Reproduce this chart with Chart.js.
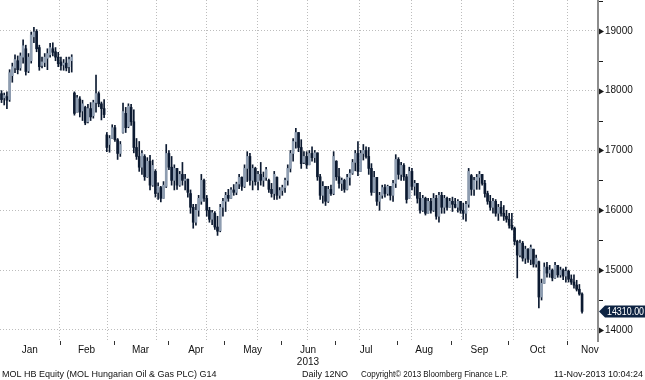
<!DOCTYPE html>
<html>
<head>
<meta charset="utf-8">
<script src="https://cdn.jsdelivr.net/npm/chart.js@4/dist/chart.umd.min.js"></script>
<style>
  html, body { margin: 0; padding: 0; background: #fff; }
  #wrap { width: 645px; height: 380px; position: relative; }
</style>
</head>
<body>
<div id="wrap"><canvas id="chart"></canvas></div>
<script>
// MOL HB daily candles, 2 Jan 2013 .. 11 Nov 2013
const monthNames = ["Jan", "Feb", "Mar", "Apr", "May", "Jun", "Jul", "Aug", "Sep", "Oct", "Nov"];
const monthDays = [22, 20, 20, 21, 21, 20, 23, 20, 21, 22, 6];   // trading days shown per month
const yearLabel = "2013";

const opens = [
  17950, 17880, 17900, 17850, 18250, 18380, 18500, 18380, 18560, 18700,
  18330, 18500, 18900, 18990, 18720, 18420, 18470, 18540, 18600, 18700,
  18650, 18560, 18480, 18430, 18460, 18400, 18500, 17960, 17640, 17860,
  17660, 17720, 17480, 17700, 17580, 17800, 17950, 17780, 17700, 17260,
  17100, 17200, 17380, 17180, 16950, 17300, 17620, 17400, 17720, 17480,
  17050, 16900, 16720, 16900, 16560, 16820, 16420, 16650, 16300, 16380,
  16200, 16400, 16950, 16720, 16500, 16700, 16420, 16600, 16500, 16520,
  16280, 16050, 15800, 16000, 16150, 16500, 16200, 16000, 15850, 15950,
  15720, 15660, 16050, 16150, 16250, 16200, 16340, 16300, 16440, 16550,
  16400, 16700, 16900, 16500, 16700, 16480, 16600, 16500, 16550, 16500,
  16350, 16280, 16550, 16250, 16330, 16380, 16500, 16700, 16950, 17150,
  17300, 17050, 16800, 16900, 16760, 16950, 16880, 16960, 16560, 16250,
  16400, 16150, 16350, 16280, 16820, 16560, 16450, 16500, 16350, 16550,
  16620, 16800, 16950, 16650, 16950, 17000, 16900, 16700, 16300, 16550,
  16150, 16250, 16380, 16280, 16400, 16250, 16450, 16850, 16600, 16750,
  16560, 16200, 16650, 16400, 16450, 16200, 16000, 16200, 15950, 16150,
  16000, 16200, 15900, 16250, 16050, 16200, 16050, 16150, 16100, 16050,
  16150, 16000, 15950, 16100, 16580, 16350, 16500, 16550, 16600, 16450,
  16280, 16150, 16050, 16150, 15950, 16050, 15950, 15900, 15850, 15750,
  15700, 15480, 15250, 15450, 15200, 15350, 15180, 15350, 15100, 15140,
  14550, 14780, 15050, 14950, 15000, 14870, 15080, 14920, 15000, 14900,
  14980, 14850, 14800, 14750, 14680, 14600
];
const highs = [
  18000, 17960, 17980, 18350, 18460, 18600, 18580, 18630, 18850, 18760,
  18620, 18980, 19060, 19020, 18760, 18560, 18620, 18700, 18790, 18800,
  18720, 18640, 18560, 18520, 18560, 18560, 18600, 17980, 17920, 17900,
  17840, 17740, 17770, 17800, 17840, 18260, 17980, 17810, 17850, 17300,
  17250, 17430, 17420, 17200, 17150, 17790, 17720, 17780, 17770, 17680,
  17200, 17150, 17000, 16930, 16880, 16920, 16840, 16680, 16460, 16400,
  16480, 17100, 17000, 16900, 16760, 16700, 16650, 16800, 16600, 16520,
  16340, 16100, 16100, 16250, 16600, 16520, 16250, 16050, 16000, 15980,
  15900, 16100, 16200, 16300, 16350, 16380, 16430, 16470, 16600, 16560,
  16760, 16980, 16950, 16760, 16720, 16650, 16800, 16640, 16720, 16520,
  16450, 16650, 16560, 16380, 16420, 16540, 16760, 17000, 17200, 17370,
  17300, 17180, 16980, 16980, 17000, 17060, 17000, 16960, 16600, 16480,
  16400, 16400, 16420, 16980, 16830, 16700, 16540, 16520, 16600, 16680,
  16850, 17000, 17150, 17000, 17100, 17060, 17050, 16780, 16650, 16550,
  16300, 16420, 16430, 16420, 16400, 16500, 16930, 16880, 16800, 16780,
  16600, 16720, 16700, 16500, 16450, 16300, 16250, 16220, 16200, 16200,
  16280, 16250, 16300, 16300, 16250, 16220, 16200, 16220, 16200, 16180,
  16150, 16120, 16150, 16700, 16600, 16550, 16600, 16650, 16600, 16500,
  16320, 16250, 16200, 16180, 16100, 16150, 16080, 16000, 15950, 15950,
  15720, 15500, 15500, 15480, 15400, 15360, 15420, 15350, 15250, 15150,
  14850, 15120, 15130, 15080, 15020, 15130, 15080, 15050, 15020, 15050,
  15000, 14920, 14920, 14830, 14760, 14620
];
const lows = [
  17800, 17760, 17700, 17820, 18140, 18300, 18280, 18340, 18460, 18260,
  18300, 18460, 18800, 18650, 18340, 18380, 18400, 18350, 18560, 18580,
  18500, 18400, 18340, 18340, 18330, 18300, 18310, 17590, 17640, 17560,
  17500, 17430, 17460, 17500, 17540, 17640, 17730, 17510, 17550, 16980,
  16970, 17200, 17150, 16850, 16900, 17290, 17300, 17380, 17420, 16960,
  16850, 16650, 16600, 16500, 16550, 16340, 16400, 16220, 16180, 16140,
  16200, 16380, 16680, 16420, 16340, 16350, 16400, 16420, 16340, 16220,
  15950, 15700, 15750, 15900, 16100, 16150, 15900, 15800, 15760, 15680,
  15580, 15640, 15900, 15980, 16150, 16200, 16250, 16260, 16360, 16330,
  16380, 16480, 16420, 16340, 16420, 16340, 16420, 16400, 16500, 16300,
  16220, 16180, 16180, 16200, 16250, 16300, 16420, 16640, 16820, 17040,
  16980, 16700, 16780, 16700, 16760, 16820, 16800, 16500, 16180, 16120,
  16080, 16130, 16250, 16260, 16500, 16370, 16330, 16300, 16340, 16420,
  16600, 16660, 16580, 16650, 16840, 16870, 16600, 16250, 16300, 16080,
  16000, 16200, 16220, 16250, 16170, 16150, 16380, 16520, 16500, 16500,
  16120, 16200, 16340, 16250, 16120, 15950, 15980, 15920, 15950, 15950,
  15980, 15850, 15800, 15950, 15950, 16000, 16050, 15980, 16040, 15970,
  15950, 15850, 15820, 16050, 16250, 16250, 16350, 16350, 16420, 16220,
  16100, 16000, 15950, 15900, 15830, 15900, 15830, 15800, 15700, 15670,
  15420, 14870, 15220, 15150, 15110, 15130, 15090, 15050, 15050, 14370,
  14500, 14780, 14880, 14880, 14820, 14860, 14880, 14880, 14840, 14800,
  14800, 14760, 14700, 14650, 14580, 14280
];
const closes = [
  17850, 17920, 17840, 18300, 18400, 18520, 18350, 18580, 18750, 18320,
  18560, 18930, 18980, 18700, 18400, 18480, 18560, 18620, 18720, 18640,
  18560, 18450, 18420, 18460, 18380, 18520, 18560, 17620, 17880, 17640,
  17780, 17460, 17700, 17560, 17800, 17950, 17780, 17700, 17600, 17050,
  17200, 17380, 17180, 16950, 17100, 17650, 17380, 17740, 17480, 17050,
  16900, 16720, 16950, 16560, 16820, 16420, 16750, 16280, 16400, 16200,
  16420, 16950, 16720, 16500, 16700, 16420, 16600, 16500, 16520, 16300,
  16050, 15800, 16000, 16200, 16500, 16200, 16000, 15850, 15960, 15720,
  15650, 16050, 16150, 16250, 16200, 16340, 16300, 16440, 16550, 16400,
  16700, 16900, 16500, 16700, 16480, 16600, 16500, 16550, 16680, 16350,
  16280, 16600, 16250, 16330, 16380, 16500, 16700, 16950, 17150, 17300,
  17050, 16780, 16900, 16760, 16950, 16880, 16960, 16560, 16250, 16400,
  16150, 16350, 16280, 16900, 16560, 16450, 16500, 16350, 16550, 16620,
  16800, 16950, 16650, 16950, 17000, 16900, 16700, 16300, 16550, 16150,
  16250, 16380, 16280, 16400, 16250, 16450, 16850, 16600, 16750, 16560,
  16180, 16650, 16400, 16450, 16200, 16000, 16200, 15950, 16150, 16000,
  16200, 15900, 16250, 16050, 16200, 16050, 16150, 16100, 16050, 16150,
  16000, 15950, 16100, 16650, 16350, 16500, 16550, 16600, 16450, 16280,
  16150, 16050, 16150, 15950, 16050, 15950, 15900, 15850, 15750, 15700,
  15480, 15250, 15450, 15200, 15350, 15180, 15380, 15100, 15200, 14550,
  14780, 15050, 14950, 15000, 14870, 15080, 14920, 15000, 14900, 14980,
  14850, 14800, 14750, 14680, 14600, 14310
];

const yTicks = [14000, 15000, 16000, 17000, 18000, 19000];
const lastPrice = "14310.00";
const footerLeft = "MOL HB Equity (MOL Hungarian Oil & Gas PLC) G14";
const footerMid = "Daily 12NO";
const footerCopy = "Copyright\u00A9 2013 Bloomberg Finance L.P.";
const footerDate = "11-Nov-2013 10:04:24";

// ---- layout stuff ----
const X_MIN = -0.56, X_MAX = 220.9;
const Y_MIN = 13815, Y_MAX = 19515;
const UP = "#8e9db1", DOWN = "#0c1a31";
const FONT = "'Liberation Sans', Arial, sans-serif";

// month boundaries (between trading days) and label centres
const bounds = [];
let acc = 0;
monthDays.forEach(d => { acc += d; bounds.push(acc - 0.5); });
bounds.pop(); // last one is the end of data
const starts = [-0.5, ...bounds];
const centres = starts.map((s, i) => {
  const next = i < bounds.length ? bounds[i] : s + 20; // Nov not finished yet
  return Math.min((s + next) / 2, X_MAX - 3);
});

const wickData = highs.map((h, i) => ({ x: i, y: [lows[i], h] }));
const bodyData = opens.map((o, i) => ({ x: i, y: [o, closes[i]] }));

const overlay = {
  id: "overlay",
  afterDraw(chart) {
    const { ctx, chartArea: a, scales: { y, x } } = chart;
    ctx.save();

    // y axis markers: arrows at thousands, small dashes at 500s
    ctx.fillStyle = "#1a1a1a";
    ctx.strokeStyle = "#1a1a1a";
    ctx.lineWidth = 1;
    for (let v = 14000; v <= 19500; v += 500) {
      const py = Math.round(y.getPixelForValue(v)) + 0.5;
      if (v % 1000 === 0) {
        ctx.beginPath();
        ctx.moveTo(a.right + 1, py - 3);
        ctx.lineTo(a.right + 6, py);
        ctx.lineTo(a.right + 1, py + 3);
        ctx.closePath();
        ctx.fill();
      } else {
        ctx.beginPath();
        ctx.moveTo(a.right + 1, py);
        ctx.lineTo(a.right + 5, py);
        ctx.stroke();
      }
    }

    // month tick marks under the plot
    ctx.strokeStyle = "#333";
    bounds.forEach(b => {
      const px = Math.round(x.getPixelForValue(b)) + 0.5;
      ctx.beginPath();
      ctx.moveTo(px, a.bottom);
      ctx.lineTo(px, a.bottom + 4);
      ctx.stroke();
    });

    // last price tag
    const ty = y.getPixelForValue(closes[closes.length - 1]);
    ctx.fillStyle = "#0e2443";
    ctx.beginPath();
    ctx.moveTo(a.right + 1, ty);
    ctx.lineTo(a.right + 7, ty - 6);
    ctx.lineTo(645, ty - 6);
    ctx.lineTo(645, ty + 6);
    ctx.lineTo(a.right + 7, ty + 6);
    ctx.closePath();
    ctx.fill();
    ctx.fillStyle = "#fff";
    ctx.font = "10px " + FONT;
    ctx.textBaseline = "middle";
    ctx.textAlign = "left";
    ctx.fillText(lastPrice, a.right + 9, ty + 0.5, 37);

    // footer line
    ctx.fillStyle = "#111";
    ctx.font = "9px " + FONT;
    ctx.fillText(footerLeft, 2, 375, 216);
    ctx.fillText(footerMid, 302, 375, 47);
    ctx.fillText(footerCopy, 361, 375, 147);
    ctx.textAlign = "right";
    ctx.fillText(footerDate, 643, 375, 124);

    ctx.restore();
  }
};

new Chart(document.getElementById("chart"), {
  type: "bar",
  data: {
    datasets: [
      {
        data: wickData,
        backgroundColor: DOWN,
        barThickness: 1,
        grouped: false,
        xAxisID: "x",
        order: 2
      },
      {
        data: bodyData,
        backgroundColor: ctx => {
          const i = ctx.dataIndex;
          return closes[i] >= opens[i] ? UP : DOWN;
        },
        barThickness: 2,
        minBarLength: 1,
        grouped: false,
        xAxisID: "x",
        order: 1
      }
    ]
  },
  options: {
    responsive: true,
    maintainAspectRatio: false,
    animation: false,
    layout: { padding: 0 },
    plugins: { legend: { display: false }, tooltip: { enabled: false } },
    scales: {
      x: {
        type: "linear",
        position: "bottom",
        min: X_MIN,
        max: X_MAX,
        offset: false,
        grid: { display: false },
        border: { display: false },
        afterBuildTicks: s => { s.ticks = centres.map(v => ({ value: v })); },
        afterFit: s => { s.height = 39; s.paddingLeft = 0; s.paddingRight = 0; },
        ticks: {
          autoSkip: false,
          maxRotation: 0,
          padding: -5,
          color: "#111",
          font: { size: 10, family: FONT, lineHeight: 1.2 },
          callback: (v, i) => monthNames[i] === "Jun" ? [monthNames[i], yearLabel] : monthNames[i]
        }
      },
      xgrid: {
        type: "linear",
        position: "top",
        min: X_MIN,
        max: X_MAX,
        afterBuildTicks: s => { s.ticks = bounds.map(v => ({ value: v })); },
        afterFit: s => { s.height = 0; s.paddingLeft = 0; s.paddingRight = 0; },
        ticks: { display: false },
        grid: { color: "#bdbdbd", drawTicks: false, lineWidth: 1 },
        border: { display: false, dash: [1, 2] }
      },
      y: {
        position: "right",
        min: Y_MIN,
        max: Y_MAX,
        afterBuildTicks: s => { s.ticks = yTicks.map(v => ({ value: v })); },
        afterFit: s => { s.width = 47; s.paddingTop = 0; s.paddingBottom = 0; },
        grid: { color: "#bdbdbd", drawTicks: false, lineWidth: 1 },
        border: { display: true, color: "#8c8c8c", width: 2, dash: [1, 2] },
        ticks: {
          padding: 7,
          color: "#111",
          font: { size: 10, family: FONT },
          callback: v => String(v)
        }
      }
    }
  },
  plugins: [overlay]
});
</script>
</body>
</html>
